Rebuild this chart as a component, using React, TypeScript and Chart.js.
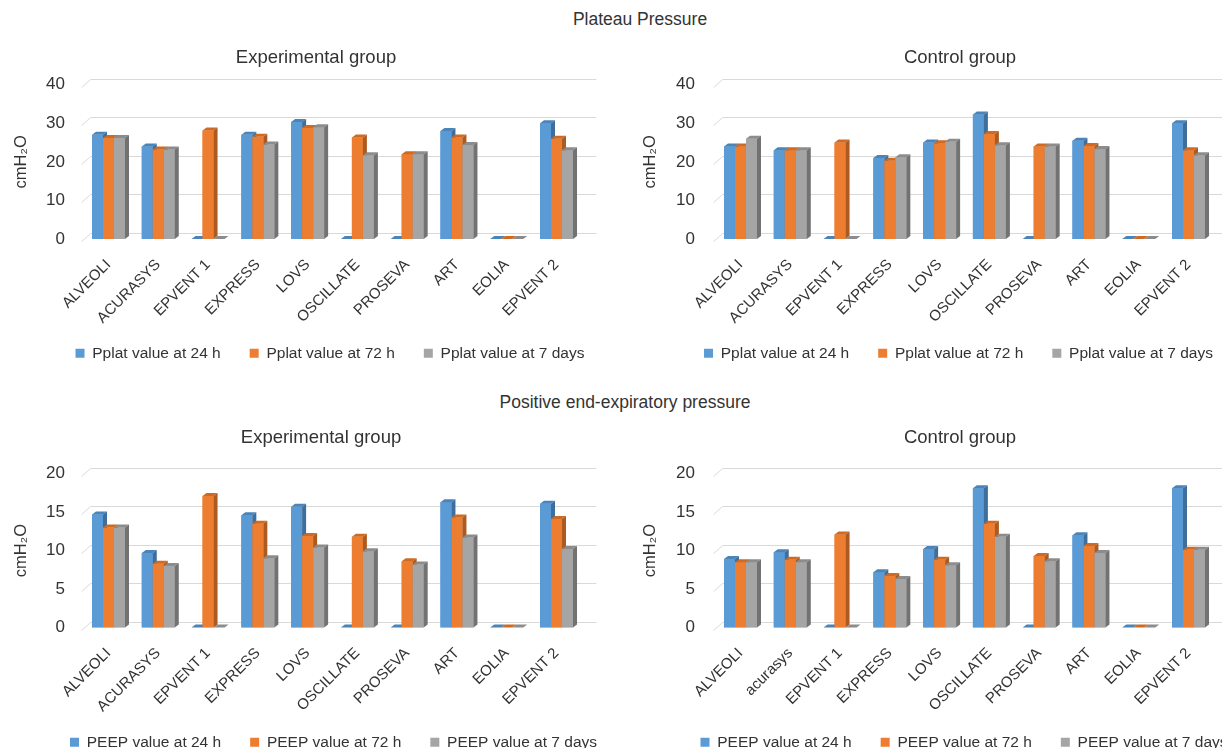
import React, { useEffect, useRef } from "react";
import { Chart, registerables } from "chart.js";

Chart.register(...registerables);

// ---------- data ----------
const categories = ["ALVEOLI", "ACURASYS", "EPVENT 1", "EXPRESS", "LOVS", "OSCILLATE", "PROSEVA", "ART", "EOLIA", "EPVENT 2"];
const categoriesPeepControl = ["ALVEOLI", "acurasys", "EPVENT 1", "EXPRESS", "LOVS", "OSCILLATE", "PROSEVA", "ART", "EOLIA", "EPVENT 2"];

const pplatNames = ["Pplat value at 24 h", "Pplat value at 72 h", "Pplat value at 7 days"];
const peepNames = ["PEEP value at 24 h", "PEEP value at 72 h", "PEEP value at 7 days"];

const pplatExp24h = [27, 24, 0, 27, 30.3, 0, 0, 28, 0, 30];
const pplatExp72h = [26.2, 23.2, 28.1, 26.5, 28.8, 26.3, 22, 26.3, 0, 26];
const pplatExp7d = [26.2, 23.2, 0, 24.5, 29, 21.7, 22, 24.4, 0, 23];

const pplatCtl24h = [24, 23, 0, 21, 25, 32.3, 0, 25.5, 0, 30];
const pplatCtl72h = [24, 23, 25, 20.3, 24.8, 27.2, 24, 24.1, 0, 23];
const pplatCtl7d = [26, 23, 0, 21.2, 25.2, 24.3, 24, 23.3, 0, 21.7];

const peepExp24h = [14.7, 9.7, 0, 14.6, 15.7, 0, 0, 16.3, 0, 16.1];
const peepExp72h = [13, 8.3, 17.1, 13.5, 11.9, 11.8, 8.6, 14.3, 0, 14.1];
const peepExp7d = [13, 8, 0, 9, 10.4, 9.9, 8.2, 11.7, 0, 10.2];

const peepCtl24h = [8.9, 9.8, 0, 7.2, 10.2, 18.1, 0, 12, 0, 18.1];
const peepCtl72h = [8.5, 8.8, 12.1, 6.7, 8.8, 13.5, 9.3, 10.6, 0, 10.1];
const peepCtl7d = [8.5, 8.5, 0, 6.3, 8.1, 11.8, 8.6, 9.7, 0, 10.1];

const pplatAxisMax = 40;
const pplatAxisStep = 10;
const peepAxisMax = 20;
const peepAxisStep = 5;
const yAxisTitle = "cmH\u2082O";

// ---------- styles ----------
const FONT = '"Liberation Sans", Arial, Helvetica, sans-serif';
const TEXT = "#333333";
const FRONT = ["#5B9BD5", "#ED7D31", "#A5A5A5"];
const TOPC = ["#4B84B9", "#CF6A24", "#8C8C8C"];
const SIDE = ["#3E6E9B", "#AC5A20", "#727272"];
const GRID = "#d9d9d9";
const BAR_DX = 4;
const BAR_DY = 3;
const GRID_DX = 7;
const GRID_DY = 6;
const LEGEND_FONT = 15.5;
const LEGEND_PAD = 29;

const depthPlugin = {
  id: "depth3d",
  afterLayout(chart: any) {
    // let rotated category labels run below the axis box (no clipping)
    const xs = chart.scales.x;
    if (xs) xs.bottom = chart.height;
  },
  beforeDatasetsDraw(chart: any) {
    const { ctx, chartArea } = chart;
    const y = chart.scales.y;
    ctx.save();
    ctx.strokeStyle = GRID;
    ctx.lineWidth = 1;
    y.ticks.forEach((t: any) => {
      const py = Math.round(y.getPixelForValue(t.value)) + 0.5;
      ctx.beginPath();
      ctx.moveTo(chartArea.left - 2, py + 2);
      ctx.lineTo(chartArea.left + GRID_DX, py - GRID_DY);
      ctx.lineTo(chartArea.right + GRID_DX + 8, py - GRID_DY);
      ctx.stroke();
    });
    ctx.restore();
  },
  afterDatasetsDraw(chart: any) {
    const { ctx } = chart;
    const n = chart.data.labels.length;
    const metas = chart.data.datasets.map((_: any, i: number) => chart.getDatasetMeta(i));
    ctx.save();
    for (let c = 0; c < n; c++) {
      for (let d = 0; d < metas.length; d++) {
        const el = metas[d].data[c];
        if (!el) continue;
        const { x, y, base, width } = el.getProps(["x", "y", "base", "width"], true);
        const l = x - width / 2;
        const r = x + width / 2;
        ctx.fillStyle = FRONT[d];
        ctx.fillRect(l, y, width, base - y);
        ctx.fillStyle = TOPC[d];
        ctx.beginPath();
        ctx.moveTo(l, y);
        ctx.lineTo(l + BAR_DX, y - BAR_DY);
        ctx.lineTo(r + BAR_DX, y - BAR_DY);
        ctx.lineTo(r, y);
        ctx.closePath();
        ctx.fill();
        ctx.fillStyle = SIDE[d];
        ctx.beginPath();
        ctx.moveTo(r, y);
        ctx.lineTo(r + BAR_DX, y - BAR_DY);
        ctx.lineTo(r + BAR_DX, base - BAR_DY);
        ctx.lineTo(r, base);
        ctx.closePath();
        ctx.fill();
      }
    }
    ctx.restore();
  },
};

type Spec = {
  left: number; top: number; width: number; height: number;
  areaLeft: number; areaRight: number; areaTop: number; areaBottom: number;
  titleX: number; labelRight: number;
  categories: string[]; names: string[]; series: number[][];
  yMax: number; step: number;
};

const panels: Spec[] = [
  {
    left: 0, top: 40, width: 660, height: 331,
    areaLeft: 83.6, areaRight: 581.4, areaTop: 84.7, areaBottom: 239,
    titleX: 21, labelRight: 65,
    categories, names: pplatNames, series: [pplatExp24h, pplatExp72h, pplatExp7d],
    yMax: pplatAxisMax, step: pplatAxisStep,
  },
  {
    left: 630, top: 40, width: 657, height: 331,
    areaLeft: 715.6, areaRight: 1213.4, areaTop: 84.7, areaBottom: 239,
    titleX: 650, labelRight: 695,
    categories, names: pplatNames, series: [pplatCtl24h, pplatCtl72h, pplatCtl7d],
    yMax: pplatAxisMax, step: pplatAxisStep,
  },
  {
    left: 0, top: 440, width: 667, height: 320,
    areaLeft: 83.6, areaRight: 581.4, areaTop: 473.7, areaBottom: 627.5,
    titleX: 21, labelRight: 65,
    categories, names: peepNames, series: [peepExp24h, peepExp72h, peepExp7d],
    yMax: peepAxisMax, step: peepAxisStep,
  },
  {
    left: 630, top: 440, width: 668, height: 320,
    areaLeft: 715.6, areaRight: 1213.4, areaTop: 473.7, areaBottom: 627.5,
    titleX: 650, labelRight: 695,
    categories: categoriesPeepControl, names: peepNames, series: [peepCtl24h, peepCtl72h, peepCtl7d],
    yMax: peepAxisMax, step: peepAxisStep,
  },
];

function Panel({ spec }: { spec: Spec }) {
  const ref = useRef<HTMLCanvasElement>(null);
  useEffect(() => {
    if (!ref.current) return;
    const legendH = LEGEND_FONT + LEGEND_PAD + 10;
    const xHeight = spec.top + spec.height - legendH - spec.areaBottom;
    const chart = new Chart(ref.current, {
      type: "bar",
      data: {
        labels: spec.categories,
        datasets: spec.series.map((data, i) => ({
          label: spec.names[i],
          data,
          backgroundColor: FRONT[i],
          borderWidth: 0,
          categoryPercentage: 0.663,
          barPercentage: 1,
          yAxisID: "y",
        })),
      },
      options: {
        responsive: false,
        animation: false,
        events: [],
        layout: { padding: { top: spec.areaTop - spec.top, left: 0, right: 0, bottom: 0 } },
        plugins: {
          legend: {
            position: "bottom",
            labels: {
              boxWidth: 9,
              boxHeight: 9,
              padding: LEGEND_PAD,
              color: TEXT,
              font: { family: FONT, size: LEGEND_FONT },
            },
          },
          tooltip: { enabled: false },
          title: { display: false },
        },
        scales: {
          x: {
            grid: { display: false, drawTicks: false },
            border: { display: false },
            ticks: {
              autoSkip: false,
              minRotation: 45,
              maxRotation: 45,
              padding: 17,
              color: TEXT,
              font: { family: FONT, size: 15 },
            },
            afterFit: (s: any) => { s.height = xHeight; },
          },
          y: {
            min: 0,
            max: spec.yMax,
            grid: { display: false, drawTicks: false },
            border: { display: false },
            ticks: {
              stepSize: spec.step,
              padding: spec.areaLeft - spec.labelRight,
              color: TEXT,
              font: { family: FONT, size: 17 },
            },
            title: {
              display: true,
              text: yAxisTitle,
              color: TEXT,
              font: { family: FONT, size: 16.5 },
              padding: { top: spec.titleX - spec.left - 9.9, bottom: 0 },
            },
            afterFit: (s: any) => { s.width = spec.areaLeft - spec.left; },
          },
          y2: {
            position: "right",
            display: true,
            grid: { display: false, drawTicks: false },
            border: { display: false },
            ticks: { display: false },
            afterFit: (s: any) => { s.width = spec.left + spec.width - spec.areaRight; },
          },
        },
      } as any,
      plugins: [depthPlugin as any],
    });
    return () => chart.destroy();
  }, [spec]);
  return (
    <canvas
      ref={ref}
      width={spec.width}
      height={spec.height}
      style={{ position: "absolute", left: spec.left, top: spec.top, width: spec.width, height: spec.height }}
    />
  );
}

const textStyle = (x: number, y: number, size: number): React.CSSProperties => ({
  position: "absolute",
  left: x,
  top: y,
  transform: "translate(-50%, -50%)",
  whiteSpace: "nowrap",
  fontSize: size,
  fontFamily: FONT,
  color: TEXT,
  lineHeight: 1,
});

export default function App() {
  return (
    <div style={{ position: "fixed", left: 0, top: 0, width: 1222, height: 748, overflow: "hidden", background: "#fff" }}>
      {panels.map((p, i) => <Panel key={i} spec={p} />)}
      <div style={textStyle(640, 20, 17.5)}>Plateau Pressure</div>
      <div style={textStyle(316, 57, 18.5)}>Experimental group</div>
      <div style={textStyle(960, 57, 18.5)}>Control group</div>
      <div style={textStyle(625, 403, 17.5)}>Positive end-expiratory pressure</div>
      <div style={textStyle(321, 437, 18.5)}>Experimental group</div>
      <div style={textStyle(960, 437, 18.5)}>Control group</div>
    </div>
  );
}
